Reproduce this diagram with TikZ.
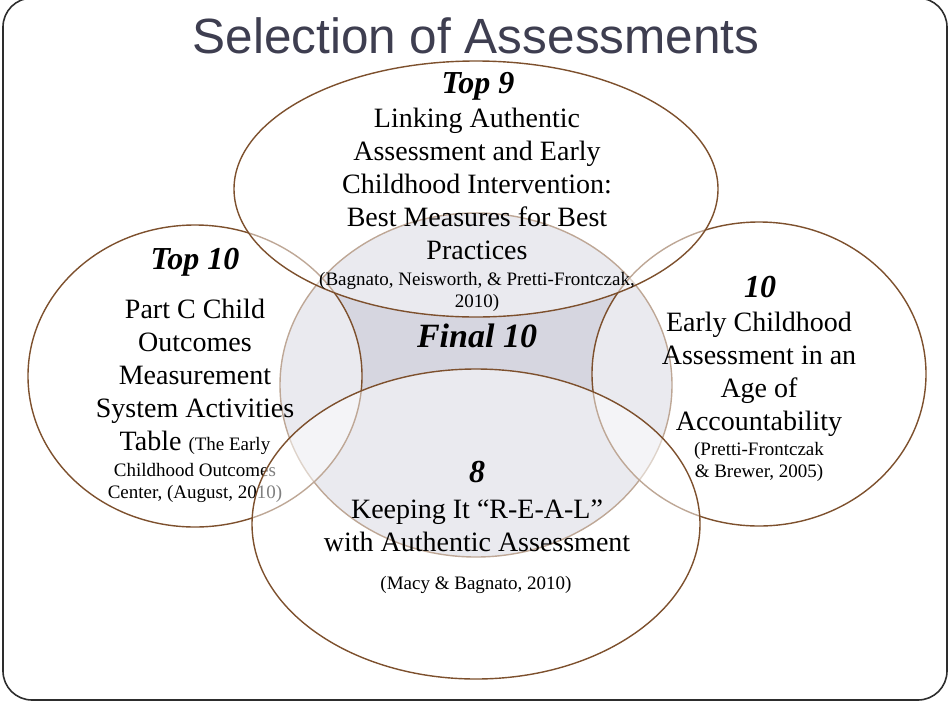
\documentclass[tikz,border=0pt]{standalone}
\usepackage{fontspec}
\setmainfont{Liberation Serif}
\newfontfamily\titlefont{Liberation Sans}

\definecolor{rim}{RGB}{125,80,45}
\definecolor{hubgray}{RGB}{214,214,224}
\definecolor{slate}{RGB}{62,62,80}
\definecolor{frame}{RGB}{45,45,45}

% multi-line nodes sit on the baseline of their last line
\tikzset{
  venn/.style={draw=rim, line width=1.4pt, fill=white, fill opacity=0.5},
  head/.style={font=\fontsize{32}{36}\selectfont\bfseries\itshape, anchor=base},
  body/.style={font=\fontsize{28}{33}\selectfont, align=center, anchor=base},
  cite/.style={font=\fontsize{19}{21.5}\selectfont, align=center, anchor=base},
}

\begin{document}
\begin{tikzpicture}[x=1pt, y=-1pt]
\useasboundingbox (0,0) rectangle (948,702);

% Slide frame and title
\draw[frame, line width=1.6pt, rounded corners=29pt] (3,-2) rectangle (947,700);
\node[font=\titlefont\fontsize{49.5}{52}\selectfont, text=slate, anchor=base] (title) at (476,53) {Selection of Assessments};

% Middle disc (what is left uncovered gives the final set)
\draw[draw=rim, fill=hubgray, line width=1.4pt] (476,385) ellipse [x radius=196, y radius=172];

% Left set
\draw[venn] (195,376) ellipse [x radius=167, y radius=151];
\node[head] (left-head) at (195,269) {Top 10};
\node[body] (left-body) at (195,450) {Part C Child\\Outcomes\\Measurement\\System Activities\\Table {\fontsize{19}{21}\selectfont (The Early}};
\node[cite] (left-cite) at (195,498) {Childhood Outcomes\\Center, (August, 2010)};

% Right set
\draw[venn] (759,374) ellipse [x radius=167, y radius=152];
\node[head] (right-head) at (760,297) {10};
\node[body] (right-body) at (759,430) {Early Childhood\\Assessment in an\\Age of\\Accountability};
\node[cite] (right-cite) at (759,477) {(Pretti-Frontczak\\\& Brewer, 2005)};

% Top set
\draw[venn] (476,189) ellipse [x radius=242, y radius=128];
\node[head] (top-head) at (478,93) {Top 9};
\node[body] (top-body) at (477,259) {Linking Authentic\\Assessment and Early\\Childhood Intervention:\\Best Measures for Best\\Practices};
\node[cite] (top-cite) at (477,307) {(Bagnato, Neisworth, \& Pretti-Frontczak,\\2010)};

% Bottom set
\draw[venn] (476,524) ellipse [x radius=224, y radius=155];
\node[head] (bottom-head) at (477,482) {8};
\node[body] (bottom-body) at (477,551) {Keeping It “R-E-A-L”\\with Authentic Assessment};
\node[cite] (bottom-cite) at (476,589) {(Macy \& Bagnato, 2010)};

% Final set in the middle
\node[head, font=\fontsize{34}{38}\selectfont\bfseries\itshape] (final) at (477,347) {Final 10};
\end{tikzpicture}
\end{document}
